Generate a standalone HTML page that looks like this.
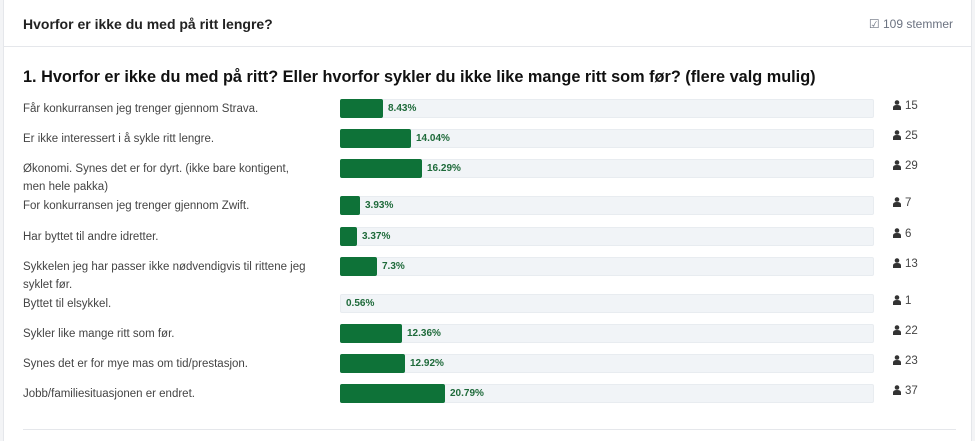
<!DOCTYPE html>
<html><head><meta charset="utf-8"><style>
body{margin:0;width:975px;height:441px;background:#f3f4f6;font-family:"Liberation Sans",sans-serif;position:relative;overflow:hidden}
.card{position:absolute;left:3px;top:0;width:967px;height:441px;background:#fff;border-left:1px solid #e5e7eb;border-right:1px solid #e5e7eb}
.hdr{position:absolute;left:0;top:0;width:967px;height:46px;border-bottom:1px solid #e5e7eb}
.ht{position:absolute;left:19px;top:16px;font-size:14px;font-weight:bold;color:#222}
.votes{position:absolute;right:18px;top:17px;font-size:12px;color:#6b7280}
.q{position:absolute;left:19px;top:68px;font-size:16.3px;font-weight:bold;color:#111}
.lbl{position:absolute;left:19px;font-size:11.5px;color:#444;line-height:18px;width:284px}
.track{position:absolute;left:336px;width:534px;height:19px;background:#f1f4f7;border:1px solid #e8ecf0;box-sizing:border-box;border-radius:2px}
.bar{position:absolute;left:-1px;top:-1px;height:19px;background:#0e7238;border-radius:2px}
.pct{position:absolute;top:3px;font-size:10px;font-weight:bold;color:#1e6a3a}
.cnt{position:absolute;left:889px;font-size:11.5px;color:#444}
.cnt svg{vertical-align:-1px;margin-right:4px}
.bot{position:absolute;left:19px;top:429px;width:933px;border-top:1px solid #e5e7eb}
</style></head><body><div class="card">
<div class="hdr"><div class="ht">Hvorfor er ikke du med på ritt lengre?</div><div class="votes">☑ 109 stemmer</div></div>
<div class="q">1. Hvorfor er ikke du med på ritt? Eller hvorfor sykler du ikke like mange ritt som før? (flere valg mulig)</div>
<div class="bot"></div>
</div>
<script>
const d=[["Får konkurransen jeg trenger gjennom Strava.",8.43,15,99],["Er ikke interessert i å sykle ritt lengre.",14.04,25,129],["Økonomi. Synes det er for dyrt. (ikke bare kontigent, men hele pakka)",16.29,29,159],["For konkurransen jeg trenger gjennom Zwift.",3.93,7,196],["Har byttet til andre idretter.",3.37,6,227],["Sykkelen jeg har passer ikke nødvendigvis til rittene jeg syklet før.",7.3,13,257],["Byttet til elsykkel.",0.56,1,294],["Sykler like mange ritt som før.",12.36,22,324],["Synes det er for mye mas om tid/prestasjon.",12.92,23,354],["Jobb/familiesituasjonen er endret.",20.79,37,384]];
const c=document.querySelector('.card');let h='';
const icon='<svg width="8" height="10" viewBox="0 0 8 10"><circle cx="4" cy="2.5" r="2.3" fill="#333"/><path d="M0 10V7.5Q0 5 4 5Q8 5 8 7.5V10Z" fill="#333"/></svg>';
for(const [t,p,n,y] of d){const w=Math.round(p*5.05);
h+=`<div class="lbl" style="top:${y+1}px">${t}</div><div class="track" style="top:${y}px">${w>4?`<div class="bar" style="width:${w}px"></div>`:''}<div class="pct" style="left:${w>4?w+4:5}px">${p}%</div></div><div class="cnt" style="top:${y+1}px">${icon}${n}</div>`;}
c.insertAdjacentHTML('beforeend',h);
</script>
</body></html>
